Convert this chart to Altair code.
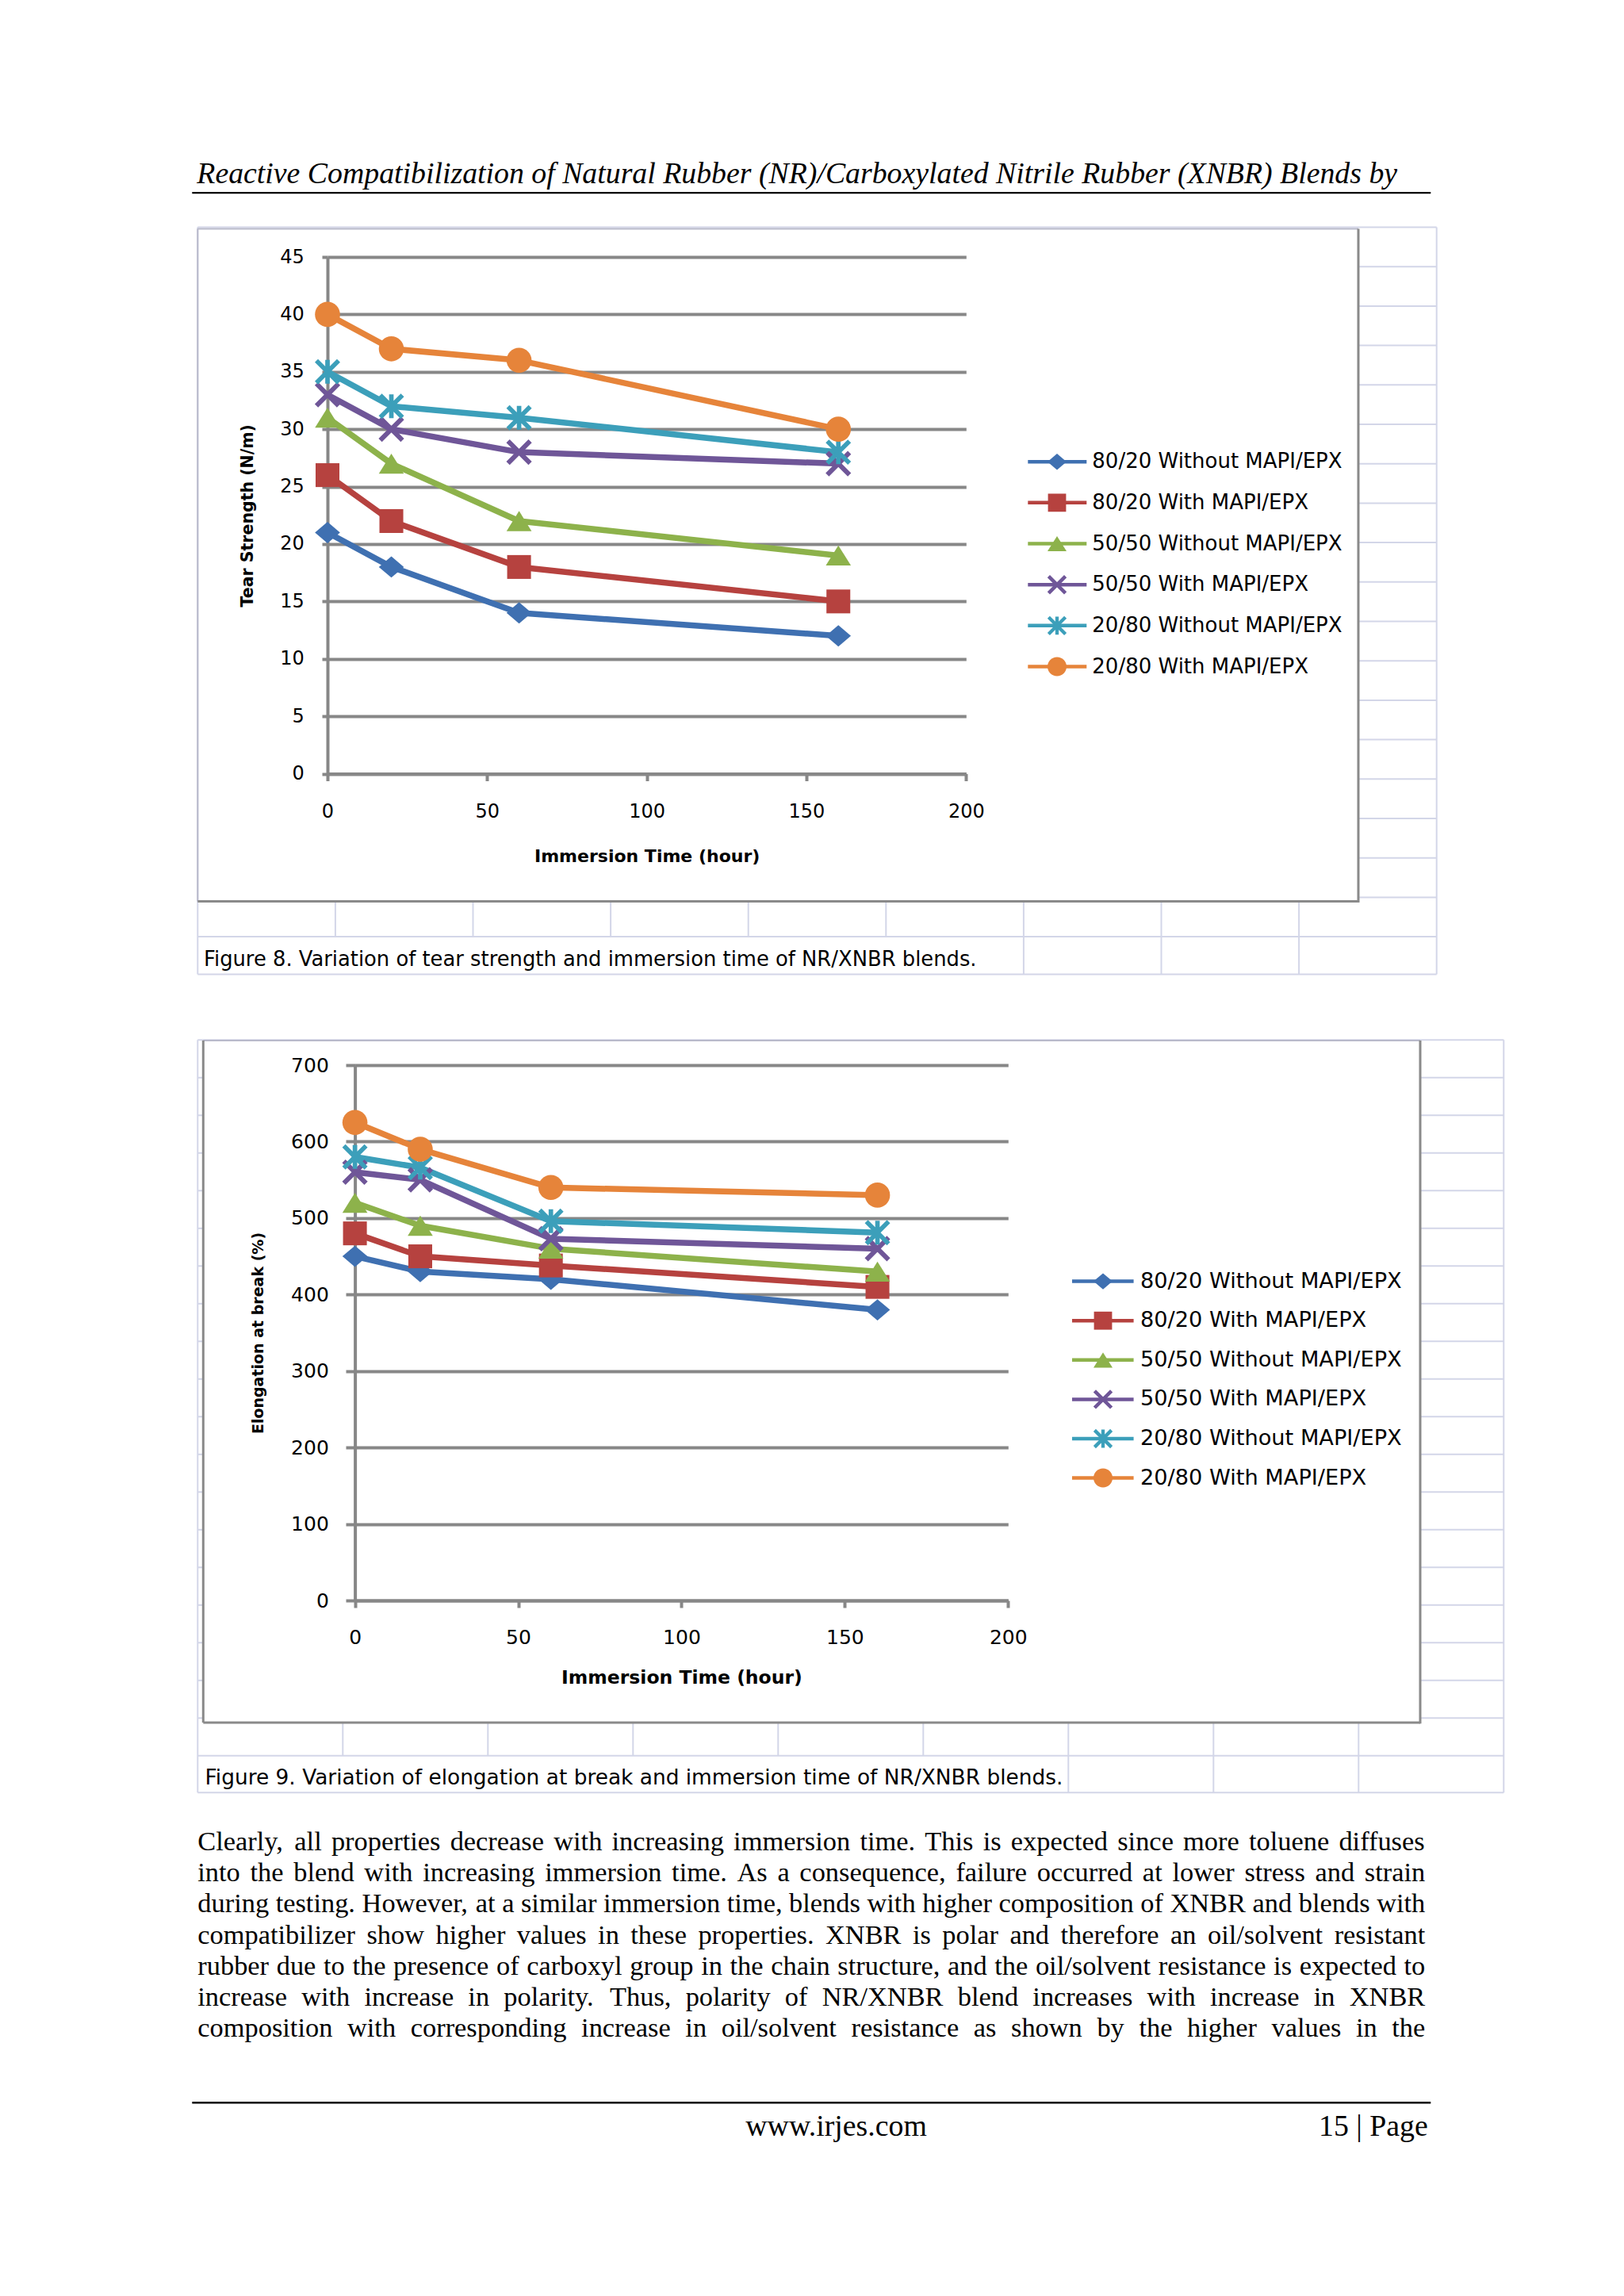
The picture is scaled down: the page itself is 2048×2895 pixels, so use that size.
import math
import altair as alt
import pandas as pd

# ------------------------------------------------------------------ data
series = ["80/20 Without MAPI/EPX", "80/20 With MAPI/EPX", "50/50 Without MAPI/EPX",
          "50/50 With MAPI/EPX", "20/80 Without MAPI/EPX", "20/80 With MAPI/EPX"]
times = [0, 20, 60, 160]

tear_8020_without = [21, 18, 14, 12]
tear_8020_with = [26, 22, 18, 15]
tear_5050_without = [31, 27, 22, 19]
tear_5050_with = [33, 30, 28, 27]
tear_2080_without = [35, 32, 31, 28]
tear_2080_with = [40, 37, 36, 30]

elong_8020_without = [450, 430, 420, 380]
elong_8020_with = [480, 450, 438, 410]
elong_5050_without = [520, 490, 460, 430]
elong_5050_with = [560, 550, 473, 460]
elong_2080_without = [580, 566, 496, 481]
elong_2080_with = [625, 590, 540, 530]

time_ticks = [0, 50, 100, 150, 200]
tear_ticks = [0, 5, 10, 15, 20, 25, 30, 35, 40, 45]
elong_ticks = [0, 100, 200, 300, 400, 500, 600, 700]

x_title = "Immersion Time (hour)"
tear_title = "Tear Strength (N/m)"
elong_title = "Elongation at break (%)"
header_text = ("Reactive Compatibilization of Natural Rubber (NR)/Carboxylated "
               "Nitrile Rubber (XNBR) Blends by")
caption8 = "Figure 8. Variation of tear strength and immersion time of NR/XNBR blends."
caption9 = "Figure 9. Variation of elongation at break and immersion time of NR/XNBR blends."
body_lines = [
    "Clearly, all properties decrease with increasing immersion time. This is expected since more toluene diffuses",
    "into the blend with increasing immersion time. As a consequence, failure occurred at lower stress and strain",
    "during testing. However, at a similar immersion time, blends with higher composition of XNBR and blends with",
    "compatibilizer show higher values in these properties. XNBR is polar and therefore an oil/solvent resistant",
    "rubber due to the presence of carboxyl group in the chain structure, and the oil/solvent resistance is expected to",
    "increase with increase in polarity. Thus, polarity of NR/XNBR blend increases with increase in XNBR",
    "composition with corresponding increase in oil/solvent resistance as shown by the higher values in the",
]
footer_left = "www.irjes.com"
footer_right = "15 | Page"

tear_values = [tear_8020_without, tear_8020_with, tear_5050_without,
               tear_5050_with, tear_2080_without, tear_2080_with]
elong_values = [elong_8020_without, elong_8020_with, elong_5050_without,
                elong_5050_with, elong_2080_without, elong_2080_with]

df_tear = pd.DataFrame([{"series": s, "time": t, "value": v}
                        for s, vals in zip(series, tear_values) for t, v in zip(times, vals)])
df_elong = pd.DataFrame([{"series": s, "time": t, "value": v}
                         for s, vals in zip(series, elong_values) for t, v in zip(times, vals)])
df_leg = pd.DataFrame({"series": series})
dummy = pd.DataFrame({"d": [0]})

# ------------------------------------------------------------------ styles
SANS = "DejaVu Sans"
SERIF = "Liberation Serif"
AX_GRAY = "#878787"
CELL = "#d3d6e8"
BOX_DARK = "#8a8a8a"
BOX_LIGHT = "#b9bacb"
colors = ["#3f70b1", "#b6423f", "#8db24b", "#6f5698", "#3c9fba", "#e6843a"]


def bar(theta_deg, L, t):
    th = math.radians(theta_deg)
    c, s = math.cos(th), math.sin(th)
    pts = [(-L, -t), (L, -t), (L, t), (-L, t)]
    rot = [(x * c - y * s, x * s + y * c) for x, y in pts]
    return "M" + "L".join(f"{x:.3f},{y:.3f}" for x, y in rot) + "Z"


shape_paths = [
    "M0,-0.85L1,0L0,0.85L-1,0Z",
    "M-0.95,-0.95L0.95,-0.95L0.95,0.95L-0.95,0.95Z",
    "M0,-0.8L1,0.8L-1,0.8Z",
    bar(45, 1.25, 0.19) + bar(-45, 1.25, 0.19),
    bar(45, 1.25, 0.18) + bar(-45, 1.25, 0.18) + bar(90, 0.95, 0.18),
    "M-1,0A1,1,0,1,1,1,0A1,1,0,1,1,-1,0Z",
]

color_scale = alt.Scale(domain=series, range=colors)
shape_scale = alt.Scale(domain=series, range=shape_paths)

# Times-Roman advance widths (1/1000 em) for justified body text
TW = {' ': 250, ',': 250, '.': 250, '/': 278, '(': 333, ')': 333, '|': 200,
      'A': 722, 'B': 667, 'C': 667, 'D': 722, 'E': 611, 'F': 556, 'G': 722, 'H': 722,
      'I': 333, 'J': 389, 'K': 722, 'L': 611, 'M': 889, 'N': 722, 'O': 722, 'P': 556,
      'Q': 722, 'R': 667, 'S': 556, 'T': 611, 'U': 722, 'V': 722, 'W': 944, 'X': 722,
      'Y': 722, 'Z': 611,
      'a': 444, 'b': 500, 'c': 444, 'd': 500, 'e': 444, 'f': 333, 'g': 500, 'h': 500,
      'i': 278, 'j': 278, 'k': 500, 'l': 278, 'm': 778, 'n': 500, 'o': 500, 'p': 500,
      'q': 500, 'r': 333, 's': 389, 't': 278, 'u': 500, 'v': 500, 'w': 722, 'x': 500,
      'y': 500, 'z': 444}


def text_w(s, fs):
    return sum(TW.get(ch, 500) for ch in s) / 1000.0 * fs


# ------------------------------------------------------------------ helpers
def seg_layer(segs, ox, oy, color, width):
    df = pd.DataFrame({"x1": [s[0] - ox for s in segs], "x2": [s[1] - ox for s in segs],
                       "y1": [s[2] - oy for s in segs], "y2": [s[3] - oy for s in segs]})
    return alt.Chart(df).mark_rule(color=color, strokeWidth=width).encode(
        x=alt.X("x1:Q", scale=None, axis=None), x2=alt.X2("x2"),
        y=alt.Y("y1:Q", scale=None, axis=None), y2=alt.Y2("y2"))


def text_layer(txt, x, y, ox, oy, **kw):
    return alt.Chart(dummy).mark_text(text=txt, **kw).encode(
        x=alt.value(x - ox), y=alt.value(y - oy))


def frame_layer(x1, x2, y1, y2, ox, oy):
    return alt.Chart(dummy).mark_rect(opacity=0).encode(
        x=alt.value(x1 - ox), x2=alt.value(x2 - ox), y=alt.value(y1 - oy), y2=alt.value(y2 - oy))


def plot_layers(df, ydom, yticks, ytitle, lab_fs, tick_y, pad_y, pad_x, title_x, title_y,
                xt_fs, yt_fs, x_range=None, y_offset=0):
    sc = dict(domain=[0, 200], nice=False, zero=False)
    if x_range is not None:
        sc["range"] = x_range
    xenc = alt.X("time:Q", scale=alt.Scale(**sc),
                 axis=alt.Axis(values=time_ticks, grid=False, domainColor=AX_GRAY, domainWidth=4,
                               tickColor=AX_GRAY, tickWidth=4, tickSize=9, labelFont=SANS,
                               labelFontSize=lab_fs, labelColor="black", labelPadding=pad_x,
                               labelFlush=False, labelOverlap=False,
                               title=x_title, titleFont=SANS, titleFontSize=xt_fs,
                               titleFontWeight="bold", titleColor="black", titleY=title_y,
                               titleBaseline="middle"))
    yax = dict(values=yticks, grid=True, gridColor=AX_GRAY, gridWidth=4,
               domainColor=AX_GRAY, domainWidth=4, tickColor=AX_GRAY,
               tickWidth=4, tickSize=tick_y, labelFont=SANS, labelFontSize=lab_fs,
               labelColor="black", labelPadding=pad_y, labelOverlap=False,
               title=ytitle, titleFont=SANS, titleFontSize=yt_fs,
               titleFontWeight="bold", titleColor="black", titleX=title_x,
               titleAngle=-90, titleBaseline="middle", titleAlign="center")
    if y_offset:
        yax["offset"] = y_offset
    yenc = alt.Y("value:Q", scale=alt.Scale(domain=ydom, nice=False), axis=alt.Axis(**yax))
    col = alt.Color("series:N", scale=color_scale, legend=None)
    lines = alt.Chart(df).mark_line(strokeWidth=7.5, strokeJoin="round", strokeCap="round").encode(
        x=xenc, y=yenc, color=col)
    pts = alt.Chart(df).mark_point(filled=True, size=1000, opacity=1).encode(
        x="time:Q", y="value:Q", color=col,
        shape=alt.Shape("series:N", scale=shape_scale, legend=None))
    return alt.layer(lines, pts)


def legend_layers(rows, xl1, xl2, xm, xt, fs):
    ys = alt.Y("series:N", scale=alt.Scale(type="point", domain=series, range=rows, padding=0),
               axis=None)
    col = alt.Color("series:N", scale=color_scale, legend=None)
    r = alt.Chart(df_leg).mark_rule(strokeWidth=4.5).encode(
        x=alt.value(xl1), x2=alt.value(xl2), y=ys, color=col)
    m = alt.Chart(df_leg).mark_point(filled=True, size=576, opacity=1).encode(
        x=alt.value(xm), y=ys, color=col,
        shape=alt.Shape("series:N", scale=shape_scale, legend=None))
    t = alt.Chart(df_leg).mark_text(align="left", baseline="middle", font=SANS, fontSize=fs,
                                    color="black").encode(x=alt.value(xt), y=ys, text="series:N")
    return alt.layer(r, m, t)


PAGE_L, PAGE_R = 8, 2036
VIEW_X = 412.7  # common left edge of both plot views (page px)

# ------------------------------------------------------------------ section A (header + fig 8)
O1x, O1y = VIEW_X, 323.5
W1, H1 = 805.3, 651.5

cols1 = [249 + j * 173.6 for j in range(10)]
rows1 = [286 + k * 49.7 for k in range(19)]
cells1 = [(1712.7, cols1[9], rows1[k], rows1[k]) for k in range(1, 18)]
cells1 += [(249, cols1[9], rows1[0], rows1[0]), (249, cols1[9], rows1[18], rows1[18]),
           (249, cols1[9], 1228, 1228), (249, 249, 286, 1228), (cols1[9], cols1[9], 286, 1228)]
cells1 += [(cols1[j], cols1[j], 1136, rows1[18]) for j in range(1, 9)]
cells1 += [(cols1[j], cols1[j], rows1[18], 1228) for j in range(6, 9)]

secA = alt.layer(
    frame_layer(PAGE_L, PAGE_R, 8, 1268, O1x, O1y),
    seg_layer([(242, 1804, 242.7, 242.7)], O1x, O1y, "black", 2.2),
    seg_layer(cells1, O1x, O1y, CELL, 2),
    seg_layer([(249, 1712.7, 288, 288), (249, 249, 288, 1136)], O1x, O1y, BOX_LIGHT, 2),
    seg_layer([(1712.7, 1712.7, 288, 1137.5), (249, 1712.7, 1136, 1136)], O1x, O1y, BOX_DARK, 3),
    text_layer(header_text, 248, 230, O1x, O1y, font=SERIF, fontSize=37.8, fontStyle="italic",
               align="left", baseline="alphabetic", color="black"),
    text_layer(caption8, 256.7, 1217.3, O1x, O1y, font=SANS, fontSize=25.8, align="left",
               baseline="alphabetic", color="black"),
    plot_layers(df_tear, [0, 45], tear_ticks, tear_title, 24, 7, 22.7, 27, 312 - O1x, 103.5,
                22, 20.5),
    legend_layers([581.7 - O1y, 840 - O1y], 1296 - O1x, 1370 - O1x, 1332.7 - O1x, 1377 - O1x, 26),
).resolve_scale(y="independent").properties(width=W1, height=H1)

# ------------------------------------------------------------------ section B (fig 9 + text)
P2x0, P2x1 = 447.3, 1271.0  # page x of 0 h and 200 h in figure 9
O2x, O2y = VIEW_X, 1341.7
W2, H2 = P2x1 - O2x, 675.0

cols2 = [249 + j * 183 for j in range(10)]
rows2 = [1310 + k * 47.5 for k in range(20)]
cells2 = [(1790.7, cols2[9], rows2[k], rows2[k]) for k in range(1, 19)]
cells2 += [(249, 256, rows2[k], rows2[k]) for k in range(1, 19)]
cells2 += [(249, cols2[9], rows2[0], rows2[0]), (249, cols2[9], rows2[19], rows2[19]),
           (249, cols2[9], 2259, 2259), (249, 249, 1310, 2259), (cols2[9], cols2[9], 1310, 2259)]
cells2 += [(cols2[j], cols2[j], 2170.7, rows2[19]) for j in range(1, 9)]
cells2 += [(cols2[j], cols2[j], rows2[19], 2259) for j in range(6, 9)]

# justified body text
BODY_FS = 34.4
L_EDGE, R_EDGE = 249.0, 1797.0
word_rows = []
for i, line in enumerate(body_lines):
    words = line.split(" ")
    widths = [text_w(w, BODY_FS) for w in words]
    gap = (R_EDGE - L_EDGE - sum(widths)) / (len(words) - 1)
    x = L_EDGE
    base = 2331.7 + i * 39.2
    for w, wd in zip(words, widths):
        word_rows.append({"w": w, "px": x - O2x, "py": base - O2y})
        x += wd + gap
df_words = pd.DataFrame(word_rows)
body = alt.Chart(df_words).mark_text(align="left", baseline="alphabetic", font=SERIF,
                                     fontSize=BODY_FS, color="black").encode(
    x=alt.X("px:Q", scale=None, axis=None), y=alt.Y("py:Q", scale=None, axis=None), text="w:N")

secB = alt.layer(
    frame_layer(PAGE_L, PAGE_R, 1268, 2880, O2x, O2y),
    seg_layer(cells2, O2x, O2y, CELL, 2),
    seg_layer([(256, 1790.7, 1310.7, 1310.7)], O2x, O2y, BOX_LIGHT, 2),
    seg_layer([(256, 256, 1310.7, 2170.7), (1790.7, 1790.7, 1310.7, 2172),
               (256, 1790.7, 2170.7, 2170.7)], O2x, O2y, BOX_DARK, 3),
    seg_layer([(242, 1804, 2650, 2650)], O2x, O2y, "black", 2.5),
    text_layer(caption9, 258.3, 2248.3, O2x, O2y, font=SANS, fontSize=26.4, align="left",
               baseline="alphabetic", color="black"),
    body,
    text_layer(footer_left, 940, 2692, O2x, O2y, font=SERIF, fontSize=37.8, align="left",
               baseline="alphabetic", color="black"),
    text_layer(footer_right, 1800.5, 2692, O2x, O2y, font=SERIF, fontSize=37.8, align="right",
               baseline="alphabetic", color="black"),
    plot_layers(df_elong, [0, 700], elong_ticks, elong_title, 25, 11.6, 21.7, 25, 325 - P2x0, 97.8,
                23.5, 19, x_range=[P2x0 - O2x, P2x1 - O2x], y_offset=-(P2x0 - O2x)),
    legend_layers([1614.3 - O2y, 1862.3 - O2y], 1351.7 - O2x, 1429.3 - O2x, 1390.7 - O2x,
                  1437.7 - O2x, 27.2),
).resolve_scale(y="independent").properties(width=W2, height=H2)

chart = alt.vconcat(secA, secB, spacing=0).properties(padding=0).configure_view(stroke=None)

chart.save("out.html", embed_options={"renderer": "svg", "actions": False})
